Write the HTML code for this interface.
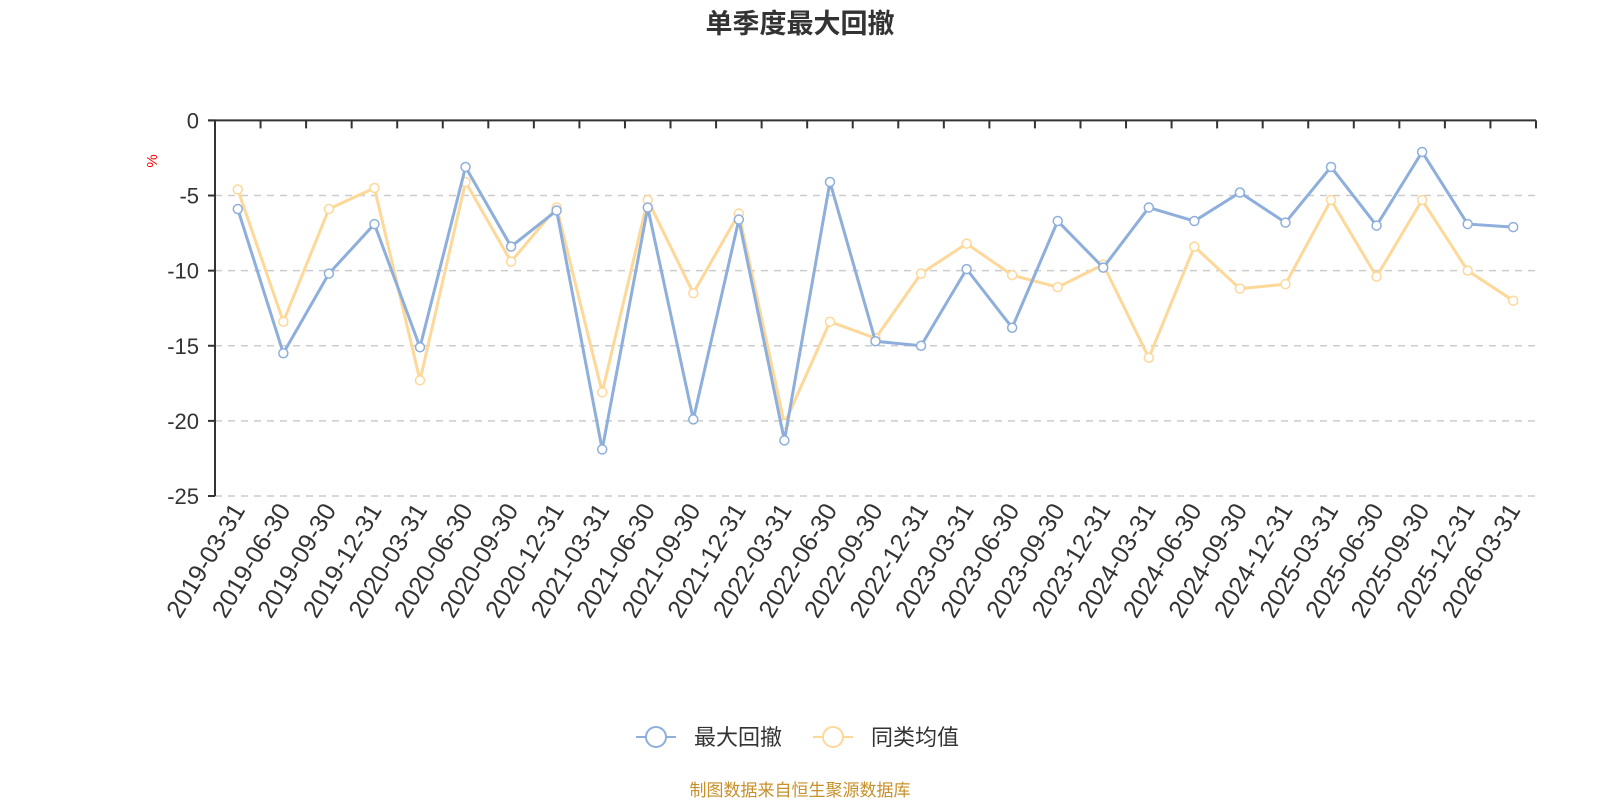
<!DOCTYPE html>
<html><head><meta charset="utf-8"><style>
body{margin:0;background:#fff;}
text{font-family:"Liberation Sans","Noto Sans CJK SC",sans-serif;}
</style></head><body>
<svg id="s" width="1600" height="800" xmlns="http://www.w3.org/2000/svg">
<text x="800" y="33" text-anchor="middle" font-size="27" font-weight="bold" fill="#333">单季度最大回撤</text>
<text x="0" y="0" transform="translate(157,161) rotate(-90)" text-anchor="middle" font-size="15" fill="#f00">%</text>
<g id="g"></g>
<line x1="636" y1="737" x2="676" y2="737" stroke="#8eaedb" stroke-width="2"/>
<circle cx="656" cy="737" r="10" fill="#fff" stroke="#8eaedb" stroke-width="2"/>
<text x="694" y="745" font-size="22" fill="#333">最大回撤</text>
<line x1="813" y1="737" x2="853" y2="737" stroke="#fdd898" stroke-width="2"/>
<circle cx="833" cy="737" r="10" fill="#fff" stroke="#fdd898" stroke-width="2"/>
<text x="871" y="745" font-size="22" fill="#333">同类均值</text>
<text x="800" y="796" text-anchor="middle" font-size="17" fill="#c8902a">制图数据来自恒生聚源数据库</text>
</svg>
<script>
var g=document.getElementById('g'),h='';
var L=215,R=1536,T=120.4,B=496,N=29,st=(R-L)/N,u=(B-T)/25;
for(var k=0;k<=5;k++){var y=T+k*5*u;
 if(k>0)h+='<line x1="'+L+'" y1="'+y+'" x2="'+R+'" y2="'+y+'" stroke="#ccc" stroke-width="1.5" stroke-dasharray="7,6"/>';
 h+='<line x1="'+(L-7)+'" y1="'+y+'" x2="'+L+'" y2="'+y+'" stroke="#333" stroke-width="2"/>';
 h+='<text x="199" y="'+(y+8)+'" text-anchor="end" font-size="22" fill="#333">'+(k?'-'+k*5:'0')+'</text>';}
h+='<line x1="'+L+'" y1="'+T+'" x2="'+L+'" y2="'+B+'" stroke="#333" stroke-width="2"/>';
h+='<line x1="'+(L-7)+'" y1="'+T+'" x2="'+R+'" y2="'+T+'" stroke="#333" stroke-width="2"/>';
for(var i=1;i<=N;i++){var x=L+i*st;h+='<line x1="'+x+'" y1="'+T+'" x2="'+x+'" y2="'+(T+8)+'" stroke="#333" stroke-width="2"/>';}
var d=[];for(var yy=2019;yy<=2026;yy++)['03-31','06-30','09-30','12-31'].forEach(function(m){d.push(yy+'-'+m)});d=d.slice(0,29);
d.forEach(function(s,i){var x=L+(i+.5)*st+8;h+='<text transform="translate('+x+',510) rotate(-59)" text-anchor="end" font-size="25" fill="#333">'+s+'</text>';});
var a=[-5.9,-15.5,-10.2,-6.9,-15.1,-3.1,-8.4,-6.0,-21.9,-5.8,-19.9,-6.6,-21.3,-4.1,-14.7,-15.0,-9.9,-13.8,-6.7,-9.8,-5.8,-6.7,-4.8,-6.8,-3.1,-7.0,-2.1,-6.9,-7.1];
var b=[-4.6,-13.4,-5.9,-4.5,-17.3,-4.1,-9.4,-5.8,-18.1,-5.3,-11.5,-6.2,-20.2,-13.4,-14.5,-10.2,-8.2,-10.3,-11.1,-9.6,-15.8,-8.4,-11.2,-10.9,-5.3,-10.4,-5.3,-10.0,-12.0];
function ser(v,c){var p=v.map(function(q,i){return (L+(i+.5)*st)+','+(T-q*u)}).join(' ');
 var s='<polyline points="'+p+'" fill="none" stroke="'+c+'" stroke-width="3" stroke-linejoin="round"/>';
 v.forEach(function(q,i){s+='<circle cx="'+(L+(i+.5)*st)+'" cy="'+(T-q*u)+'" r="4.5" fill="#fff" stroke="'+c+'" stroke-width="1.5"/>';});return s;}
h+=ser(b,'#fdd898')+ser(a,'#8eaedb');
g.innerHTML=h;
</script>
</body></html>
